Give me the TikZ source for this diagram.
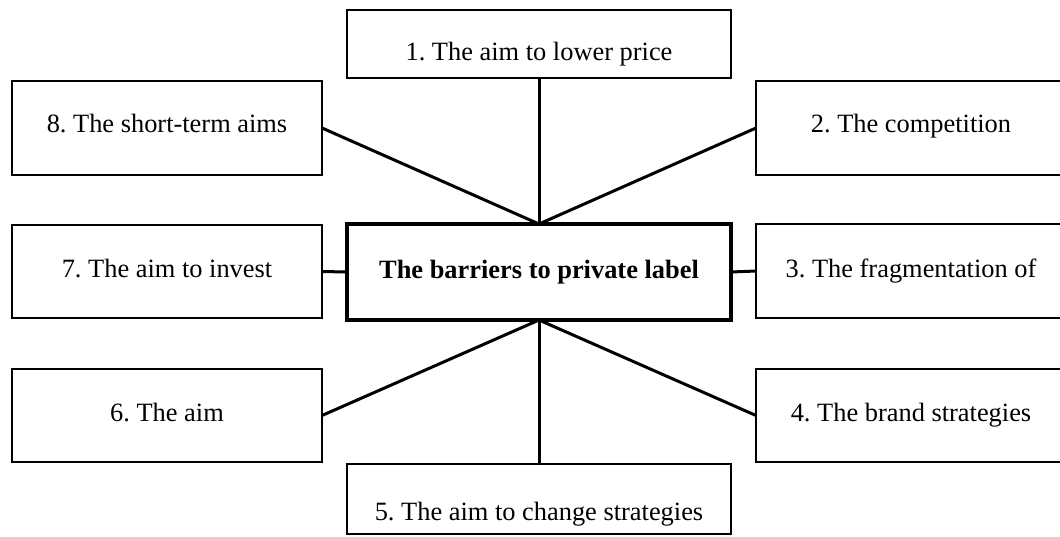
\documentclass[tikz,border=0pt]{standalone}
\usepackage{fontspec}
\setmainfont{Liberation Serif}
\frenchspacing
\begin{document}
\begin{tikzpicture}[x=1pt,y=-1pt,
  box/.style={draw=black,line width=2pt,rectangle,inner sep=0pt,outer sep=0pt},
  hub/.style={draw=black,line width=4.5pt,rectangle,inner sep=0pt,outer sep=0pt},
  txt/.style={anchor=base,inner sep=0pt,font=\fontsize{26.4}{30}\selectfont},
  link/.style={draw=black,line width=3pt}]
\useasboundingbox (0,0) rectangle (1060,536);
\clip (0,0) rectangle (1060,536);
% boxes
\node[box,minimum width=384pt,minimum height=68pt] (b1) at (539,44) {};
\node[box,minimum width=310pt,minimum height=94pt] (b2) at (911,128) {};
\node[box,minimum width=310pt,minimum height=94pt] (b3) at (911,271) {};
\node[box,minimum width=310pt,minimum height=93pt] (b4) at (911,415.5) {};
\node[box,minimum width=384pt,minimum height=70pt] (b5) at (539,499) {};
\node[box,minimum width=310pt,minimum height=93pt] (b6) at (167,415.5) {};
\node[box,minimum width=310pt,minimum height=93pt] (b7) at (167,271.5) {};
\node[box,minimum width=310pt,minimum height=94pt] (b8) at (167,128) {};
\node[hub,minimum width=384pt,minimum height=96pt] (c) at (539,272) {};
% texts
\node[txt] (t1) at (539,60) {1. The aim to lower price};
\node[txt] (t2) at (911,132) {2. The competition};
\node[txt] (t3) at (911,277) {3. The fragmentation of};
\node[txt] (t4) at (911,421) {4. The brand strategies};
\node[txt] (t5) at (539,520) {5. The aim to change strategies};
\node[txt] (t6) at (167,421) {6. The aim};
\node[txt] (t7) at (167,277) {7. The aim to invest};
\node[txt] (t8) at (167,132) {8. The short-term aims};
\node[txt,font=\fontsize{26.4}{30}\selectfont\bfseries] (tc) at (539,278) {The barriers to private label};
% connectors
\draw[link] (b1.south) -- (c.north);
\draw[link] (b8.east) -- (c.north);
\draw[link] (b2.west) -- (c.north);
\draw[link] (b7.east) -- (c.west);
\draw[link] (b3.west) -- (c.east);
\draw[link] (b6.east) -- (c.south);
\draw[link] (b4.west) -- (c.south);
\draw[link] (b5.north) -- (c.south);
\end{tikzpicture}
\end{document}
